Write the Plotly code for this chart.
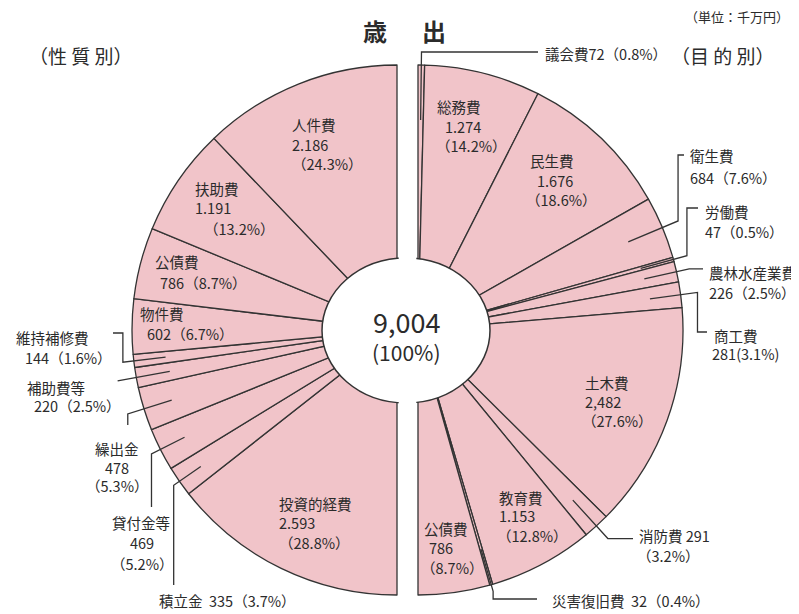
import math
import plotly.graph_objects as go

# ---------------- data ----------------
total = 9004
left_labels = ["人件費", "扶助費", "公債費", "物件費", "維持補修費", "補助費等",
               "繰出金", "貸付金等", "積立金", "投資的経費"]
left_values = [2186, 1191, 786, 602, 144, 220, 478, 469, 335, 2593]
left_pcts = [24.3, 13.2, 8.7, 6.7, 1.6, 2.5, 5.3, 5.2, 3.7, 28.8]

right_labels = ["議会費", "総務費", "民生費", "衛生費", "労働費", "農林水産業費",
                "商工費", "土木費", "消防費", "教育費", "災害復旧費", "公債費"]
right_values = [72, 1274, 1676, 684, 47, 226, 281, 2482, 291, 1153, 32, 786]
right_pcts = [0.8, 14.2, 18.6, 7.6, 0.5, 2.5, 3.1, 27.6, 3.2, 12.8, 0.4, 8.7]

# thousands separator as printed in the source
left_seps = [".", ".", ",", ",", ",", ",", ",", ",", ",", "."]
right_seps = [",", ".", ".", ",", ",", ",", ",", ",", ",", ".", ",", ","]

# ---------------- geometry / style ----------------
W, H = 799, 614
OFF = 8  # page body margin in the browser
CX_L, CX_R, CY, R = 397, 418, 330, 265
PINK = "#F1C4C9"
INK = "#333333"
TXT = "#2b2b2b"
FONT = "Noto Sans CJK JP, sans-serif"


def X(px):
    return (px - OFF) / W


def Y(py):
    return 1 - (py - OFF) / H


def fmt_val(v, sep):
    s = f"{v:,}"
    return s.replace(",", sep)


fig = go.Figure()

# left half: hidden half first (right side), then slices clockwise from the bottom up the left
nl = len(left_values)
fig.add_trace(go.Pie(
    values=[total] + left_values[::-1], labels=["_hidden_l"] + left_labels[::-1],
    sort=False, direction="clockwise", rotation=0,
    textinfo="none", hoverinfo="label+value", showlegend=False,
    marker=dict(colors=["rgba(0,0,0,0)"] + [PINK] * nl,
                line=dict(color=["rgba(0,0,0,0)"] + [INK] * nl,
                          width=[0] + [1.3] * nl)),
    domain=dict(x=[X(CX_L - R), X(CX_L + R)], y=[Y(CY + R), Y(CY - R)]),
))
nr = len(right_values)
fig.add_trace(go.Pie(
    values=right_values + [total], labels=right_labels + ["_hidden_r"],
    sort=False, direction="clockwise", rotation=0,
    textinfo="none", hoverinfo="label+value", showlegend=False,
    marker=dict(colors=[PINK] * nr + ["rgba(0,0,0,0)"],
                line=dict(color=[INK] * nr + ["rgba(0,0,0,0)"],
                          width=[1.3] * nr + [0])),
    domain=dict(x=[X(CX_R - R), X(CX_R + R)], y=[Y(CY + R), Y(CY - R)]),
))


def mid_angle(values, i):
    cum = sum(values[:i]) + values[i] / 2
    return cum / total * math.pi  # half circle each side


def polar(side, ang, r):
    if side == "L":
        return CX_L - r * math.sin(ang), CY - r * math.cos(ang)
    return CX_R + r * math.sin(ang), CY - r * math.cos(ang)


shapes = []
# centre hole (elliptical in the source)
shapes.append(dict(type="circle", xref="paper", yref="paper", layer="above",
                   x0=X(322), x1=X(490), y0=Y(403), y1=Y(258),
                   fillcolor="white", line=dict(color=INK, width=1.5)))
shapes.append(dict(type="rect", xref="paper", yref="paper", layer="above",
                   x0=X(398.7), x1=X(416.3), y0=Y(412), y1=Y(248),
                   fillcolor="white", line=dict(width=0)))

# leader lines: (side, label, r0, r1, extra commands)
leaders = [
    ("L", "維持補修費", 233, 276, [("V", 333), ("H", 113)]),
    ("L", "補助費等", 231, 284, []),
    ("L", "繰出金", 236, 282, [("V", 425)]),
    ("L", "貸付金等", 238, 275, [("V", 507)]),
    ("L", "積立金", 239, 272, [("V", 585)]),
    ("R", "議会費", 210, 278, [("H", 538)]),
    ("R", "衛生費", 228, 282, [("V", 155), ("H", 684)]),
    ("R", "労働費", 231, 279, [("V", 208), ("H", 698)]),
    ("R", "農林水産業費", 232, 278, [("H", 703)]),
    ("R", "商工費", 234, 282, [("V", 332), ("H", 707)]),
    ("R", "消防費", 230, 282, [("H", 633)]),
    ("R", "災害復旧費", 228, 272, [("V", 599), ("H", 537)]),
]
for side, name, r0, r1, cmds in leaders:
    labs, vals = (left_labels, left_values) if side == "L" else (right_labels, right_values)
    a = mid_angle(vals, labs.index(name))
    x0, y0 = polar(side, a, r0)
    x1, y1 = polar(side, a, r1)
    pts = [(x0, y0), (x1, y1)]
    cx, cy = x1, y1
    for c, v in cmds:
        if c == "V":
            cy = v
        else:
            cx = v
        pts.append((cx, cy))
    path = "M " + " L ".join(f"{X(px):.5f},{Y(py):.5f}" for px, py in pts)
    shapes.append(dict(type="path", xref="paper", yref="paper", layer="above",
                       path=path, line=dict(color=INK, width=1.3)))

# label layout: line templates and (x_left, y_center) positions
label_layout = {
    ("L", "人件費"): [("{n}", 290, 125), ("{v}", 290, 144), ("（{p}%）", 290, 163)],
    ("L", "扶助費"): [("{n}", 193, 188), ("{v}", 193, 208), ("（{p}%）", 202, 229)],
    ("L", "公債費"): [("{n}", 153, 262), ("{v}（{p}%）", 158, 282)],
    ("L", "物件費"): [("{n}", 138, 313), ("{v}（{p}%）", 145, 333)],
    ("L", "維持補修費"): [("{n}", 14, 337), ("{v}（{p}%）", 23, 357)],
    ("L", "補助費等"): [("{n}", 25, 387), ("{v}（{p}%）", 32, 405)],
    ("L", "繰出金"): [("{n}", 93, 448), ("{v}", 103, 467), ("（{p}%）", 84, 485)],
    ("L", "貸付金等"): [("{n}", 110, 522), ("{v}", 128, 542), ("（{p}%）", 109, 563)],
    ("L", "積立金"): [("{n}  {v}（{p}%）", 157, 600)],
    ("L", "投資的経費"): [("{n}", 277, 503), ("{v}", 277, 522), ("（{p}%）", 277, 542)],
    ("R", "議会費"): [("{n}{v}（{p}%）", 543, 53)],
    ("R", "総務費"): [("{n}", 435, 107), ("{v}", 443, 127), ("（{p}%）", 434, 145)],
    ("R", "民生費"): [("{n}", 528, 160), ("{v}", 535, 180), ("（{p}%）", 524, 200)],
    ("R", "衛生費"): [("{n}", 688, 155), ("{v}（{p}%）", 688, 177)],
    ("R", "労働費"): [("{n}", 703, 212), ("{v}（{p}%）", 703, 232)],
    ("R", "農林水産業費"): [("{n}", 707, 272), ("{v}（{p}%）", 707, 292)],
    ("R", "商工費"): [("{n}", 712, 335), ("{v}({p}%)", 710, 353)],
    ("R", "土木費"): [("{n}", 583, 382), ("{v}", 583, 402), ("（{p}%）", 580, 420)],
    ("R", "消防費"): [("{n} {v}", 637, 535), ("（{p}%）", 635, 555)],
    ("R", "教育費"): [("{n}", 497, 497), ("{v}", 497, 515), ("（{p}%）", 495, 535)],
    ("R", "災害復旧費"): [("{n}  {v}（{p}%）", 550, 600)],
    ("R", "公債費"): [("{n}", 422, 528), ("{v}", 427, 547), ("（{p}%）", 419, 567)],
}

annotations = []


def add_text(text, x, y, size=14.5, xanchor="left", weight="normal"):
    annotations.append(dict(text=text, x=X(x), y=Y(y), xref="paper", yref="paper",
                            xanchor=xanchor, yanchor="middle", showarrow=False,
                            font=dict(family=FONT, size=size, color=TXT, weight=weight)))


for side, labs, vals, pcts, seps in (("L", left_labels, left_values, left_pcts, left_seps),
                                      ("R", right_labels, right_values, right_pcts, right_seps)):
    for i, n in enumerate(labs):
        for tpl, x, y in label_layout[(side, n)]:
            add_text(tpl.format(n=n, v=fmt_val(vals[i], seps[i]), p=pcts[i]), x, y)

# titles and centre text
add_text("歳", 375, 30, size=24, xanchor="center", weight="bold")
add_text("出", 434, 30, size=24, xanchor="center", weight="bold")
add_text("（単位：千万円）", 683, 16, size=13)
add_text("（性 質 別）", 27, 55, size=19)
add_text("（目 的 別）", 669, 55, size=19)
add_text(f"{total:,}", 406, 321, size=27, xanchor="center")
add_text("(100%)", 406, 352, size=21, xanchor="center")

fig.update_layout(width=W, height=H, autosize=False,
                  margin=dict(l=0, r=0, t=0, b=0),
                  paper_bgcolor="white", plot_bgcolor="white",
                  shapes=shapes, annotations=annotations)

fig.write_html("out.html")
